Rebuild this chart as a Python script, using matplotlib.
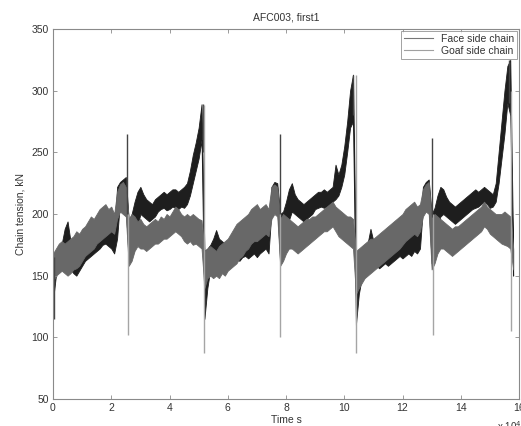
import numpy as np
import matplotlib.pyplot as plt

plt.rcParams['font.family'] = ['Liberation Sans', 'DejaVu Sans']

t = np.round(np.arange(0, 15.85, 0.1), 1)

face_lo = [130, 150, 158, 160, 162, 158, 155, 152, 150, 154,
           158, 162, 164, 166, 168, 170, 172, 175, 176, 174,
           172, 168, 180, 210, 208, 206, 160, 165, 172, 190,
           200, 198, 196, 194, 196, 198, 202, 204, 205, 203,
           204, 206, 205, 204, 206, 205, 208, 215, 225, 235,
           245, 260,
           115, 140, 155, 160, 162, 160, 158, 156, 158, 160,
           162, 164, 162, 165, 166, 164, 166, 168, 165, 168,
           170, 172, 168, 202, 210, 205, 160, 165, 172, 195,
           202, 200, 198, 196, 194, 196, 198, 200, 204, 205,
           206, 205, 206, 208, 210, 212, 215, 222, 232, 250,
           270, 275,
           110, 135, 148, 152, 155, 158, 160, 158, 156, 158,
           160, 158, 160, 162, 164, 166, 164, 166, 168, 166,
           170, 168, 172, 205, 210, 208, 160, 165, 185, 198,
           200, 198, 196, 194, 192, 194, 196, 198, 200, 202,
           204, 205, 206, 208, 210, 208, 205, 206, 210, 225,
           245, 265, 290, 280, 150]
face_hi = [165, 170, 172, 176, 188, 194, 178, 176, 172, 176,
           178, 180, 182, 178, 184, 186, 190, 192, 194, 190,
           186, 184, 222, 226, 228, 230, 195, 200, 210, 218,
           222, 216, 212, 210, 208, 212, 214, 216, 218, 216,
           218, 220, 220, 218, 220, 222, 225, 235, 248, 258,
           270, 289,
           170, 172, 175, 180, 187, 180, 178, 176, 178, 176,
           180, 178, 180, 182, 180, 182, 186, 188, 190, 188,
           186, 190, 186, 222, 226, 225, 200, 202, 210, 220,
           225, 216, 212, 210, 208, 210, 212, 214, 216, 218,
           218, 220, 218, 220, 222, 240, 232, 240, 255, 275,
           300, 313,
           160, 165, 168, 172, 176, 188, 178, 176, 174, 176,
           178, 180, 182, 180, 184, 186, 184, 186, 188, 186,
           188, 186, 190, 222, 226, 228, 200, 205, 215, 222,
           220, 214, 210, 208, 206, 208, 210, 212, 214, 216,
           218, 220, 218, 220, 222, 220, 218, 216, 225, 250,
           275, 300, 320, 325, 170]

goaf_lo = [145, 150, 152, 154, 152, 150, 152, 155, 156, 158,
           162, 166, 168, 170, 172, 176, 178, 180, 182, 184,
           186, 184, 196, 202, 200, 198, 158, 162, 170, 174,
           172, 172, 170, 172, 174, 176, 176, 178, 180, 180,
           182, 184, 186, 184, 182, 178, 176, 178, 175, 176,
           174, 172,
           140, 148, 150, 148, 150, 148, 152, 150, 154, 156,
           158, 160, 164, 166, 170, 172, 176, 178, 178, 180,
           182, 184, 182, 196, 200, 198, 158, 162, 168, 172,
           172, 170, 168, 170, 172, 174, 176, 178, 180, 182,
           184, 186, 186, 188, 190, 186, 182, 180, 178, 176,
           174, 172,
           135, 140, 144, 148, 150, 152, 154, 156, 158, 160,
           162, 164, 166, 168, 170, 172, 175, 178, 180, 182,
           184, 182, 186, 198, 202, 200, 155, 160, 168, 172,
           172, 170, 168, 166, 168, 170, 172, 174, 176, 178,
           180, 182, 184, 186, 190, 188, 184, 182, 180, 178,
           176, 175, 174, 172, 155]
goaf_hi = [168, 172, 176, 178, 176, 178, 180, 182, 186, 184,
           188, 190, 194, 198, 196, 200, 204, 206, 208, 204,
           206, 200, 218, 224, 226, 222, 196, 200, 198, 194,
           196, 192, 190, 192, 194, 196, 194, 198, 196, 200,
           198, 202, 206, 204, 200, 198, 200, 198, 200, 198,
           196, 195,
           170, 172, 174, 172, 170, 174, 176, 178, 180, 184,
           188, 192, 194, 196, 198, 200, 204, 206, 208, 204,
           206, 208, 204, 222, 224, 222, 196, 200, 198, 196,
           194, 192, 190, 192, 194, 196, 196, 198, 198, 200,
           202, 204, 206, 208, 210, 206, 204, 202, 200, 198,
           198, 196,
           170, 172, 174, 176, 178, 180, 180, 182, 184, 186,
           188, 190, 192, 194, 196, 198, 200, 204, 206, 208,
           210, 206, 208, 220, 224, 226, 196, 200, 198, 196,
           194, 192, 190, 188, 190, 190, 192, 194, 196, 198,
           200, 202, 204, 206, 210, 206, 204, 202, 200, 200,
           200, 202, 200, 198, 172]

# sharp peaks and drops
face_spike_t = [0.03, 2.55, 5.15, 7.78, 10.3, 13.02, 15.65]
face_spike_lo = [115, 200, 250, 200, 280, 200, 290]
face_spike_hi = [165, 265, 289, 265, 313, 262, 325]

goaf_spike_t = [2.58, 5.2, 7.8, 10.4, 13.05, 15.74]
goaf_spike_lo = [102, 87, 100, 87, 102, 105]
goaf_spike_hi = [200, 288, 200, 313, 200, 300]

face_c = '#1e1e1e'
goaf_c = '#686868'
txt_c = '#333333'

fig = plt.figure(figsize=(5.21, 4.26), dpi=100)
ax = fig.add_axes([53 / 521, 27 / 426, 466 / 521, 370 / 426])

ax.fill_between(t, face_lo, face_hi, color=face_c, lw=0.6, edgecolor=face_c)
ax.vlines(face_spike_t, face_spike_lo, face_spike_hi, color='#444444', lw=1.0)
ax.fill_between(t, goaf_lo, goaf_hi, color=goaf_c, lw=0.6, edgecolor=goaf_c)
ax.vlines(goaf_spike_t, goaf_spike_lo, goaf_spike_hi, color='#a5a5a5', lw=1.0)

ax.plot([], [], color='#777777', lw=0.8, label='Face side chain')
ax.plot([], [], color='#a0a0a0', lw=0.8, label='Goaf side chain')

ax.set_xlim(0, 16)
ax.set_ylim(50, 350)
ax.set_xticks(range(0, 17, 2))
ax.set_yticks(range(50, 351, 50))

for s in ax.spines.values():
    s.set_color('#8a8a8a')
    s.set_linewidth(0.8)
ax.tick_params(direction='in', top=True, right=True, length=3, width=0.6,
               colors='#8a8a8a', labelcolor=txt_c, labelsize=7.5, pad=3)

ax.set_title('AFC003, first1', fontsize=7.5, color=txt_c, pad=6)
ax.set_xlabel('Time s', fontsize=7.5, color=txt_c, labelpad=1)
ax.set_ylabel('Chain tension, kN', fontsize=7.5, color=txt_c, labelpad=4)
ax.text(0.953, -0.055, r'x 10$^4$', transform=ax.transAxes, fontsize=7,
        color=txt_c, ha='left', va='top', clip_on=False)

leg = ax.legend(loc='upper right', fontsize=7.5, frameon=True, fancybox=False,
                borderaxespad=0.15, handlelength=2.8, handletextpad=0.8,
                labelspacing=0.2, borderpad=0.3)
leg.get_frame().set_edgecolor('#8a8a8a')
leg.get_frame().set_linewidth(0.7)
for tx in leg.get_texts():
    tx.set_color(txt_c)

fig.savefig('out.png', dpi=100)
